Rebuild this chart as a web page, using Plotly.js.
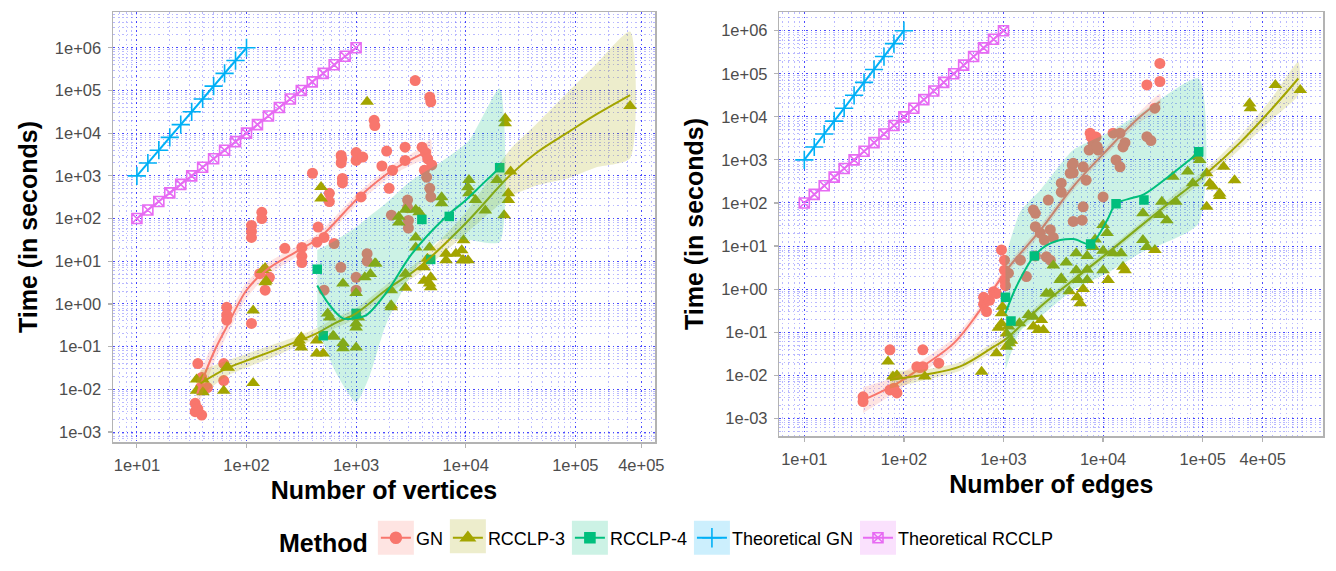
<!DOCTYPE html>
<html>
<head>
<meta charset="utf-8">
<script src="https://cdn.plot.ly/plotly-3.0.1.min.js"></script>
<style>html,body{margin:0;padding:0;background:#fff;}#chart{width:1336px;height:571px;}</style>
</head>
<body>
<div id="chart"></div>
<script>
// ---------------- Data: left panel (x = number of vertices) ----------------
const gnV_x = [3460,4700,4800,1460,1480,730,730,740,1000,1000,1150,1900,1720,2800,2800,4000,4300,4500,4900,4200,2150,2000,4400,4700,4800,2950,2950,2100,3000,1110,750,750,570,570,400,450,510,630,440,320,320,320,224,162,132,148,138,138,111,111,111,66,66,66,111,36,62,62,39,44,34,34,39,36,510,725,1000,1000,1260,1260,3000,38];
const gnV_y = [1.7e5,7e4,5.4e4,2e4,1.5e4,3000,2000,2500,3500,2300,2750,3800,1700,4700,2300,4700,3500,2500,1800,1350,1350,510,930,510,320,270,180,120,90,320,870,680,390,250,1150,63,36,26,28,21,13,9.3,20,4.2,5.1,2.1,140,100,69,50,36,0.83,0.55,0.42,0.35,0.04,0.04,0.016,0.019,0.011,0.0047,0.003,0.0025,0.0035,2.1,7.2,4.2,2.1,15,10,60,0.011];

const r3V_x = [35,35,40,40,66,62,115,115,141,151,302,302,437,437,575,479,479,1260,68,148,148,316,316,501,550,617,759,759,1000,1000,1000,1050,1200,1480,2090,2090,2820,2820,2450,3500,3500,3760,4170,4170,4680,6030,6030,4790,4790,6610,8130,9550,9550,10470,10700,10700,12300,15100,22900,22900,25700,24500,24500,22400,19300,316000,9330,9200,4680,2090,1000,760,630,1510,1350,6610,4470,10500,2820,3500,2450];
const r3V_y = [0.017,0.0093,0.017,0.0085,0.033,0.0093,0.7,0.014,6.2,3.5,0.14,0.12,0.14,0.069,0.48,550,295,5.4e4,0.032,6.9,3.2,0.166,0.095,0.069,0.6,0.18,3.0,0.091,1.8,0.28,0.095,0.48,4.2,8.9,0.83,2.1,5.1,2.4,81,36,21,141,7.2,3.5,21,316,229,4.2,2.45,10.5,15,31,10.5,537,794,390,270,155,2.2e4,1.7e4,1260,390,270,120,794,4.3e4,10.5,18,3.0,0.93,0.35,0.12,0.17,8.9,5,15,11.5,10.5,160,160,110];

const r4V_x = [442,501,1000,3980,4790,7080,20400];
const r4V_y = [6.5,0.18,0.6,95,11,112,1550];

// smoothing curves (left)
const gnV_sx = [35.5,50,66,100,151,302,468,1072,2138,3758,4786];
const gnV_sy = [0.0079,0.071,0.29,2.09,6.17,18.2,36.3,324,1349,3020,3981];
const gnV_lo = [0.00355,0.0398,0.182,1.38,4.37,13.8,27.5,245,1023,2138,2239];
const gnV_hi = [0.0178,0.126,0.457,3.16,8.71,24.0,47.9,427,1778,4266,7079];

const r3V_sx = [38,66,100,158,302,437,631,1000,1862,3758,10000,25119,43652,87096,151356,316228];
const r3V_sy = [0.0138,0.0309,0.0468,0.0724,0.138,0.204,0.347,0.603,2.09,7.24,77.6,1000,3388,10715,26303,77625];
const r3V_lo = [0.00692,0.0204,0.0324,0.0513,0.105,0.155,0.263,0.457,1.58,5.13,43.7,324,589,891,1549,2570];
const r3V_hi = [0.0275,0.0468,0.0676,0.102,0.182,0.269,0.457,0.794,2.75,10.2,138,3981,15849,95499,389045,2398833];

const r4V_sx = [442,562,759,1000,1230,1862,3236,6607,10000,14125,20417];
const r4V_sy = [2.69,1.0,0.457,0.468,0.537,1.74,15.1,110,269,631,1549];
const r4V_rx = [442,661,1000,1318,1862,3236,5754,10715,20417];
const r4V_lo = [0.282,0.0234,0.005,0.0195,0.316,5.13,30.9,31.6,28.2];
const r4V_hi = [18.2,31.6,63.1,112,224,794,1995,6761,112202];

// ---------------- Data: right panel (x = number of edges) ----------------
const gnE_x = [38.9,38.9,72.4,72.4,85.1,79.4,155,135,155,224,145,631,631,676,724,794,851,955,1023,1023,1023,1122,1479,1698,2089,2089,2344,2570,2951,3162,2818,2089,2692,2951,3802,3802,4898,5012,6310,6761,5012,6310,6166,10000,8511,7943,8913,12589,14791,16596,15849,7244,7586,13490,14791,27542,30200,33113,27542,37154,37154,7413,8710,5012,4677,1995,1047];
const gnE_y = [0.00316,0.00245,0.0389,0.00457,0.00389,0.005,0.0389,0.0158,0.0158,0.019,0.0151,0.646,0.447,0.302,0.55,0.871,0.794,8.13,4.68,2.75,1.62,2.34,4.68,1.95,57.5,28.2,20,13.8,24,15.8,117,5.89,5.62,4.68,288,178,759,501,692,339,37.2,81.3,39.8,138,3388,2399,1698,4169,4169,2512,1995,1698,3388,1000,692,3467,2818,15849,54954,173780,66069,4169,2042,832,490,69,1.2];

const r3E_x = [69.2,77.6,85.1,162,603,851,1072,1072,1202,955,955,977,1122,1148,1445,1995,1995,2239,2399,2512,2692,2951,3802,3715,5370,5370,5623,5495,5888,6310,6918,6918,6918,7943,8318,10000,10000,11220,12589,15136,16596,15849,10000,10965,25119,25119,27542,33113,38905,37154,43652,50119,53703,70795,79433,93325,109648,117490,125893,147911,109648,208930,162181,147911,87096,295121,301995,537032,954993,3162,4266,4571,1778,891];
const r3E_y = [0.0209,0.00933,0.01,0.00933,0.012,0.0324,0.0933,0.0457,0.063,0.275,0.158,0.389,0.135,0.055,0.162,0.229,0.135,0.112,0.191,0.112,0.794,0.794,1.78,1.62,6.76,2.75,1.62,0.646,0.468,1.0,5.89,2.82,1.62,9.55,14.1,7.76,2.75,1.62,6.76,6.76,2.75,3.31,30.9,20,57.5,13.8,9.55,8.13,107,52.5,39.8,407,107,537,288,1000,490,288,240,166,81.3,339,692,145,1202,20417,15849,54954,41687,3.55,4.17,0.891,0.251,0.126];

const r4E_x = [1047,1189,2042,7499,13490,25704,91201];
const r4E_y = [0.646,0.182,5.89,11.2,95.5,117,1549];

// smoothing curves (right)
const gnE_sx = [38.9,81.3,158,316,537,1072,2344,5012,10965,23442,37154];
const gnE_sy = [0.00263,0.00603,0.0166,0.055,0.251,2.75,23.4,240,1698,10000,22387];
const gnE_lo = [0.00132,0.00398,0.0117,0.0417,0.2,2.19,18.6,191,1349,7586,14791];
const gnE_hi = [0.00525,0.00912,0.0234,0.0724,0.316,3.47,29.5,302,2138,13183,33884];

const r3E_sx = [72.4,170,363,794,1072,2344,5012,10965,23442,50119,109648,234423,501187,912011];
const r3E_sy = [0.00776,0.0105,0.0158,0.0457,0.0708,0.389,1.62,6.76,28.2,117,490,2455,15849,77625];
const r3E_lo = [0.0049,0.00794,0.0126,0.0363,0.0562,0.324,1.35,5.62,23.4,93.3,372,1738,8913,32359];
const r3E_hi = [0.0123,0.0138,0.02,0.0575,0.0891,0.468,1.95,8.13,33.9,148,646,3467,28184,186209];

const r4E_sx = [1047,1349,2042,2951,5012,7499,10965,13490,19953,25704,50119,91201];
const r4E_sy = [0.275,1.15,5.89,11.5,14.5,11.2,39.8,95.5,132,158,490,1479];
const r4E_rx = [1047,1479,2344,5012,10965,23442,91201];
const r4E_lo = [0.0132,0.107,0.229,0.955,2.34,6.76,33.9];
const r4E_hi = [5.62,63,200,1698,4169,12023,77625];

// theoretical curves (same in both panels)
const thGN_x = [10,12.59,15.85,19.95,25.12,31.62,39.81,50.12,63.1,79.43,100];
const thGN_y = [1000,1995,3981,7943,15849,31623,63096,125893,251189,501187,1000000];
const thRC_x = [10,12.59,15.85,19.95,25.12,31.62,39.81,50.12,63.1,79.43,100,125.9,158.5,199.5,251.2,316.2,398.1,501.2,631,794.3,1000];
const thRC_y = [100,158.5,251.2,398.1,631,1000,1585,2512,3981,6310,10000,15849,25119,39811,63096,100000,158489,251189,398107,630957,1000000];

// tick labels
const yTickVals = [1e-3,1e-2,1e-1,1,10,100,1e3,1e4,1e5,1e6];
const yTickText = ['1e-03','1e-02','1e-01','1e+00','1e+01','1e+02','1e+03','1e+04','1e+05','1e+06'];
const xTickVals = [10,100,1e3,1e4,1e5,4e5];
const xTickText = ['1e+01','1e+02','1e+03','1e+04','1e+05','4e+05'];

const methods = ['GN','RCCLP-3','RCCLP-4','Theoretical GN','Theoretical RCCLP'];

// ---------------- styling ----------------
const COL = {GN:'#F8766D', R3:'#A3A500', R4:'#00BF7D', TGN:'#00B0F6', TRC:'#E76BF3'};
const FILL = {GN:'rgba(248,118,109,0.2)', R3:'rgba(163,165,0,0.2)', R4:'rgba(0,191,125,0.2)', TGN:'rgba(0,176,246,0.2)', TRC:'rgba(231,107,243,0.2)'};
const FONT = 'Liberation Sans, Arial, Helvetica, sans-serif';

function pts(x, y, color, symbol, size, xa, ya) {
  return {type:'scatter', mode:'markers', x:x, y:y, xaxis:xa, yaxis:ya, showlegend:false, hoverinfo:'skip',
    marker:{color:color, symbol:symbol, size:size, line:{width:0}}};
}
function ribbon(x, lo, hi, fill, xa, ya) {
  return {type:'scatter', mode:'lines', x:x.concat(x.slice().reverse()), y:hi.concat(lo.slice().reverse()),
    xaxis:xa, yaxis:ya, fill:'toself', fillcolor:fill, line:{width:0, shape:'spline', smoothing:0.6}, showlegend:false, hoverinfo:'skip'};
}
function smooth(x, y, color, xa, ya) {
  return {type:'scatter', mode:'lines', x:x, y:y, xaxis:xa, yaxis:ya, line:{color:color, width:2, shape:'spline'}, showlegend:false, hoverinfo:'skip'};
}
function theo(x, y, color, symbol, size, xa, ya) {
  return {type:'scatter', mode:'lines+markers', x:x, y:y, xaxis:xa, yaxis:ya, showlegend:false, hoverinfo:'skip',
    line:{color:color, width:2}, marker:{color:color, symbol:symbol, size:size, line:{color:color, width:1.6}}};
}
function legendEntry(name, color, symbol, size) {
  return {type:'scatter', mode:'lines+markers', x:[null], y:[null], name:name, showlegend:true,
    line:{color:color, width:2}, marker:{color:color, symbol:symbol, size:size, line:{color:color, width:1.6}}};
}

const data = [];
[['x','y', gnV_x,gnV_y,r3V_x,r3V_y,r4V_x,r4V_y, gnV_sx,gnV_sy,gnV_lo,gnV_hi, r3V_sx,r3V_sy,r3V_lo,r3V_hi, r4V_sx,r4V_sy,r4V_rx,r4V_lo,r4V_hi],
 ['x2','y2', gnE_x,gnE_y,r3E_x,r3E_y,r4E_x,r4E_y, gnE_sx,gnE_sy,gnE_lo,gnE_hi, r3E_sx,r3E_sy,r3E_lo,r3E_hi, r4E_sx,r4E_sy,r4E_rx,r4E_lo,r4E_hi]
].forEach(function(p){
  const xa=p[0], ya=p[1];
  data.push(pts(p[2],p[3],COL.GN,'circle',11,xa,ya));
  data.push(pts(p[4],p[5],COL.R3,'triangle-up',12,xa,ya));
  data.push(pts(p[6],p[7],COL.R4,'square',9.5,xa,ya));
  data.push(theo(thGN_x,thGN_y,COL.TGN,'cross-thin-open',13,xa,ya));
  data.push(theo(thRC_x,thRC_y,COL.TRC,'square-x-open',10,xa,ya));
  data.push(ribbon(p[8],p[10],p[11],FILL.GN,xa,ya));
  data.push(smooth(p[8],p[9],COL.GN,xa,ya));
  data.push(ribbon(p[12],p[14],p[15],FILL.R3,xa,ya));
  data.push(smooth(p[12],p[13],COL.R3,xa,ya));
  data.push(ribbon(p[18],p[19],p[20],FILL.R4,xa,ya));
  data.push(smooth(p[16],p[17],COL.R4,xa,ya));
});
data.push(legendEntry(methods[0],COL.GN,'circle',11));
data.push(legendEntry(methods[1],COL.R3,'triangle-up',12));
data.push(legendEntry(methods[2],COL.R4,'square',10));
data.push(legendEntry(methods[3],COL.TGN,'cross-thin-open',14));
data.push(legendEntry(methods[4],COL.TRC,'square-x-open',10));

const W=1336, H=571;
function axBase() {
  return {type:'log', showline:true, mirror:true, linecolor:'#b3b3b3', linewidth:1.5,
    ticks:'outside', ticklen:4, tickcolor:'#b3b3b3', tickwidth:1.2,
    tickfont:{family:FONT, size:16.5, color:'#4d4d4d'},
    showgrid:true, gridcolor:'rgba(0,0,255,0.6)', gridwidth:1, griddash:'1.5px,3px',
    minor:{dtick:'D1', showgrid:true, gridcolor:'rgba(70,70,255,0.38)', gridwidth:1, griddash:'1.5px,3px', ticks:''},
    zeroline:false, automargin:false, fixedrange:true};
}
function xAxis(domain, range, anchor, title) {
  return Object.assign(axBase(), {domain:domain, range:range, anchor:anchor, tickvals:xTickVals, ticktext:xTickText, ticklabelstandoff:4,
    title:{text:title, font:{family:FONT, size:25, color:'#000', weight:'bold'}, standoff:8}});
}
function yAxis(domain, range, anchor, title) {
  return Object.assign(axBase(), {domain:domain, range:range, anchor:anchor, tickvals:yTickVals, ticktext:yTickText, ticklabelstandoff:3,
    title:{text:title, font:{family:FONT, size:25, color:'#000', weight:'bold'}, standoff:10}});
}

const layout = {
  width:W, height:H, autosize:false, margin:{l:0,r:0,t:0,b:0,pad:0},
  paper_bgcolor:'#ffffff', plot_bgcolor:'#ffffff', font:{family:FONT},
  xaxis: xAxis([113/W, 655/W], [0.782, 5.727], 'y', 'Number of vertices'),
  yaxis: yAxis([(H-442)/H, (H-12)/H], [-3.234, 6.837], 'x', 'Time (in seconds)'),
  xaxis2: xAxis([779.3/W, 1323.3/W], [0.749, 6.211], 'y2', 'Number of edges'),
  yaxis2: yAxis([(H-436)/H, (H-12)/H], [-3.411, 6.434], 'x2', 'Time (in seconds)'),
  showlegend:true,
  legend:{orientation:'h', x:0.5, xanchor:'center', y:1-541/H, yanchor:'middle', bgcolor:'rgba(0,0,0,0)',
    font:{family:FONT, size:18, color:'#000'}, itemwidth:30, traceorder:'normal',
    title:{text:'Method', side:'left', font:{family:FONT, size:25, color:'#000', weight:'bold'}}},
  hovermode:false
};

const keyFill = [FILL.GN, FILL.R3, FILL.R4, FILL.TGN, FILL.TRC];
const gd = document.getElementById('chart');
Plotly.newPlot(gd, data, layout, {displayModeBar:false, staticPlot:true}).then(function(){
  const fs = gd._fullLayout._size;
  const box = gd.getBoundingClientRect();
  const syms = gd.querySelectorAll('.legend .traces .legendsymbols');
  const shapes = [];
  syms.forEach(function(s, i){
    const r = s.getBoundingClientRect();
    const cx = (r.left + r.right)/2 - box.left;
    const cy = (r.top + r.bottom)/2 - box.top;
    const hw = 18, hh = 17;
    shapes.push({type:'rect', xref:'paper', yref:'paper', layer:'above', line:{width:0}, fillcolor:keyFill[i % keyFill.length],
      x0:(cx-hw-fs.l)/fs.w, x1:(cx+hw-fs.l)/fs.w, y0:1-((cy+hh)-fs.t)/fs.h, y1:1-((cy-hh)-fs.t)/fs.h});
  });
  return Plotly.relayout(gd, {shapes:shapes});
});
</script>
</body>
</html>
